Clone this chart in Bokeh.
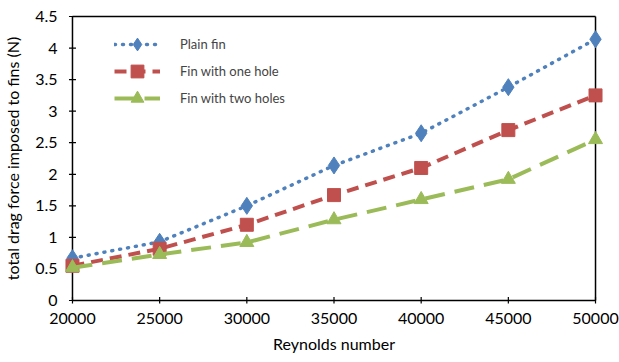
import math
from bokeh.plotting import figure
from bokeh.models import FixedTicker, Legend, LegendItem, Range1d
from bokeh.embed import file_html
from bokeh.resources import INLINE

reynolds = [20000, 25000, 30000, 35000, 40000, 45000, 50000]
plain_fin = [0.67, 0.93, 1.50, 2.14, 2.65, 3.38, 4.14]
one_hole = [0.55, 0.82, 1.20, 1.67, 2.10, 2.70, 3.25]
two_holes = [0.52, 0.73, 0.92, 1.28, 1.60, 1.92, 2.55]

series_names = ["Plain fin", "Fin with one hole", "Fin with two holes"]
x_ticks = [20000, 25000, 30000, 35000, 40000, 45000, 50000]
x_tick_labels = ["20000", "25000", "30000", "35000", "40000", "45000", "50000"]
y_ticks = [0, 0.5, 1, 1.5, 2, 2.5, 3, 3.5, 4, 4.5]
y_tick_labels = ["0", "0.5", "1", "1.5", "2", "2.5", "3", "3.5", "4", "4.5"]

X_MIN, X_MAX = 20000, 50000
Y_MIN, Y_MAX = 0, 4.5

FONT = "Lato"

BOX_W, BOX_H = 524, 284
PAD_L, PAD_R, PAD_T, PAD_B = 10, 10, 3, 3
dx = (X_MAX - X_MIN) / BOX_W
dy = (Y_MAX - Y_MIN) / BOX_H

p = figure(width=619, height=362, output_backend="svg", toolbar_location=None,
           x_range=Range1d(X_MIN - PAD_L * dx, X_MAX + PAD_R * dx),
           y_range=Range1d(Y_MIN - PAD_B * dy, Y_MAX + PAD_T * dy),
           min_border_left=61, min_border_right=14, min_border_top=13, min_border_bottom=59)
p.xgrid.visible = False
p.ygrid.visible = False
p.outline_line_color = None
p.background_fill_color = "white"
p.border_fill_color = "white"

for ax in (p.xaxis[0], p.yaxis[0]):
    ax.axis_line_color = None
    ax.major_tick_line_color = None
    ax.minor_tick_line_color = None
    ax.major_tick_in = 0
    ax.major_tick_out = 0
    ax.major_label_text_font = FONT
    ax.major_label_text_font_size = "16px"
    ax.major_label_text_color = "black"
    ax.axis_label_text_font = FONT
    ax.axis_label_text_font_size = "16px"
    ax.axis_label_text_font_style = "normal"
    ax.axis_label_text_color = "black"

p.xaxis[0].ticker = FixedTicker(ticks=x_ticks)
p.xaxis[0].major_label_overrides = dict(zip(x_ticks, x_tick_labels))
p.xaxis[0].major_label_standoff = 9
p.xaxis[0].axis_label = "Reynolds number"
p.xaxis[0].axis_label_standoff = 7

p.yaxis[0].ticker = FixedTicker(ticks=y_ticks)
p.yaxis[0].major_label_overrides = dict(zip(y_ticks, y_tick_labels))
p.yaxis[0].major_label_standoff = 5
p.yaxis[0].axis_label = "total drag force imposed to fins (N)"
p.yaxis[0].axis_label_standoff = 10

# plot box (the axis frame) as four segments
p.segment(x0=[X_MIN, X_MIN, X_MIN, X_MAX], y0=[Y_MIN, Y_MAX, Y_MIN, Y_MIN],
          x1=[X_MAX, X_MAX, X_MIN, X_MAX], y1=[Y_MIN, Y_MAX, Y_MAX, Y_MAX],
          line_color="#000000", line_width=1.5)

# tick marks
p.scatter(x=x_ticks, y=[Y_MIN] * len(x_ticks), marker="dash", size=7, angle=math.pi / 2,
          line_color="#000000", line_width=1.2)
p.scatter(x=[X_MIN] * len(y_ticks), y=y_ticks, marker="dash", size=7, angle=0,
          line_color="#000000", line_width=1.2)

blue = "#4F81BD"
red = "#C0504D"
green = "#9BBB59"

l1 = p.line(reynolds, plain_fin, line_color=blue, line_width=3.5, line_dash="1 7", line_cap="round")
m1 = p.scatter(reynolds, plain_fin, marker="diamond", size=17, fill_color=blue, line_color=blue)
l2 = p.line(reynolds, one_hole, line_color=red, line_width=4, line_dash="12 7")
m2 = p.scatter(reynolds, one_hole, marker="square", size=13, fill_color=red, line_color=red)
l3 = p.line(reynolds, two_holes, line_color=green, line_width=4, line_dash="20 10")
m3 = p.scatter(reynolds, two_holes, marker="triangle", size=14, fill_color=green, line_color=green)

renderers = [[l1, m1], [l2, m2], [l3, m3]]
legend_y = [243, 216, 189]
for name, rs, ly in zip(series_names, renderers, legend_y):
    lg = Legend(items=[LegendItem(label=name, renderers=rs)],
                location=(52, ly), margin=0, padding=5, spacing=0,
                glyph_width=46, glyph_height=32, label_height=32, label_standoff=20,
                label_text_font=FONT, label_text_font_size="13px",
                border_line_color=None, background_fill_alpha=0)
    p.add_layout(lg)

open("out.html", "w").write(file_html(p, INLINE))
